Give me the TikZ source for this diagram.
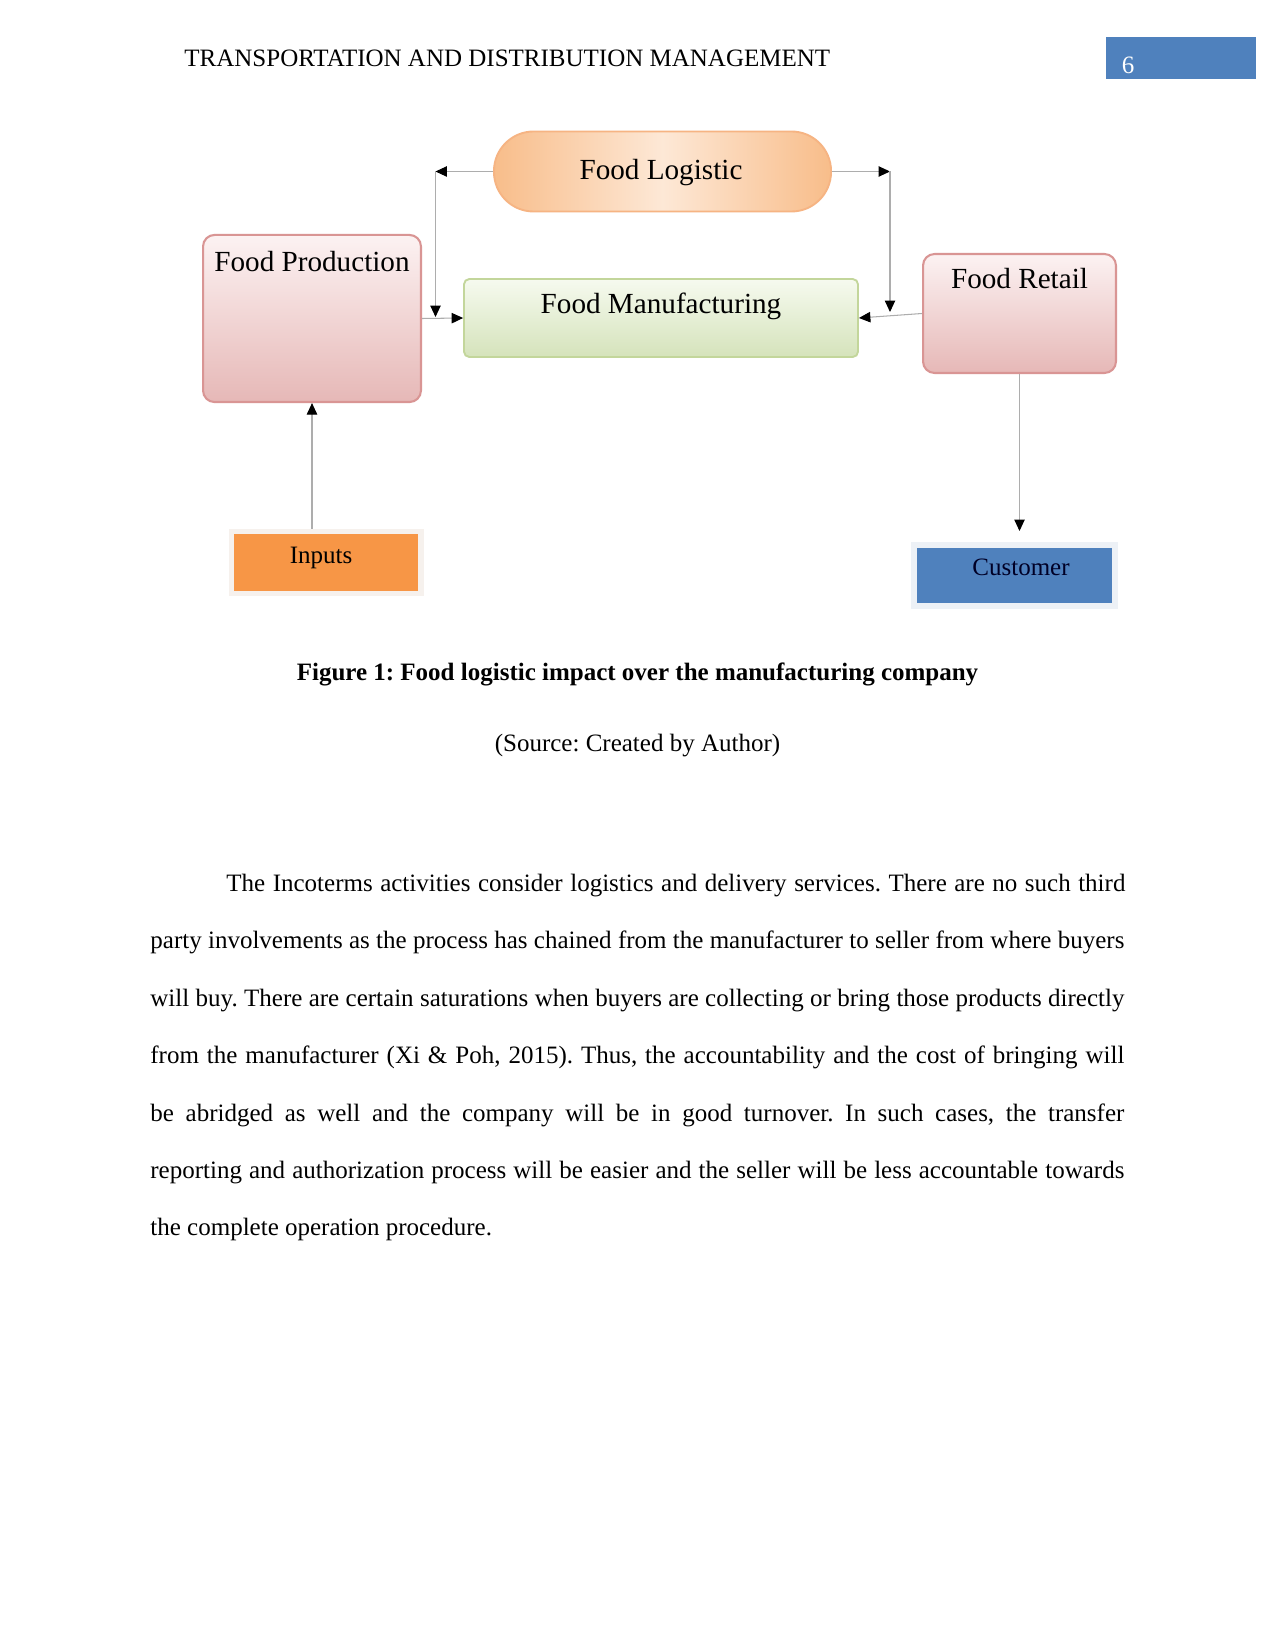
\documentclass[tikz,border=0pt]{standalone}
\usepackage{fontspec}
\setmainfont{Liberation Serif}
\usetikzlibrary{arrows.meta}
\frenchspacing
\definecolor{pinktop}{HTML}{FCF2F2}
\definecolor{pinkbot}{HTML}{E6B8B7}
\definecolor{pinkline}{HTML}{D99594}
\definecolor{greentop}{HTML}{F6FAEF}
\definecolor{greenbot}{HTML}{D5E3BB}
\definecolor{greenline}{HTML}{C3D69B}
\definecolor{orgedge}{HTML}{F8BD8A}
\definecolor{orgmid}{HTML}{FDE8D6}
\definecolor{orgline}{HTML}{F6B483}
\definecolor{inputfill}{HTML}{F79646}
\definecolor{inputglow}{HTML}{F6F1ED}
\definecolor{custfill}{HTML}{4F81BD}
\definecolor{custglow}{HTML}{EDF1F6}
\definecolor{linegray}{HTML}{ADADAD}
\begin{document}
\begin{tikzpicture}[x=0.48pt,y=-0.48pt,
  pinkbox/.style={rectangle, rounded corners=5.5pt, draw=pinkline, line width=1pt, top color=pinktop, bottom color=pinkbot, inner sep=0pt},
  greenbox/.style={rectangle, rounded corners=2.5pt, draw=greenline, line width=0.9pt, top color=greentop, bottom color=greenbot, inner sep=0pt},
  pillbox/.style={rectangle, rounded corners=19pt, draw=orgline, line width=0.9pt, left color=orgedge, right color=orgedge, middle color=orgmid, inner sep=0pt},
  conn/.style={draw=linegray, line width=0.5pt, -{Triangle[length=5.5pt,width=5pt,color=black]}},
  txt/.style={inner sep=0pt, anchor=base},
  big/.style={font=\fontsize{14}{16}\selectfont},
  norm/.style={font=\fontsize{12}{14}\selectfont},
  bodyline/.style={inner sep=0pt, anchor=base west, font=\fontsize{12}{14}\selectfont}
]
\fill[white] (0,0) rectangle (1275,1650);
\useasboundingbox (0,0) rectangle (1275,1650);

% header
\node[txt, anchor=base west, norm] (hdr) at (184,66.5) {TRANSPORTATION AND DISTRIBUTION MANAGEMENT};
\node[rectangle, fill=custfill, inner sep=0pt, minimum width=72pt, minimum height=20pt] (pgbox) at (1181,58) {};
\node[txt, anchor=base west, norm, text=white] (pgnum) at (1121.5,73.5) {6};

% boxes
\node[pillbox, minimum width=161.8pt, minimum height=38.4pt] (log) at (662.5,171.5) {};
\node[txt, big] (logt) at (661,179.5) {Food Logistic};

\node[pinkbox, minimum width=104.6pt, minimum height=80.2pt] (prod) at (312,318.5) {};
\node[txt, big] (prodt) at (312,271.5) {Food Production};

\node[greenbox, minimum width=189.1pt, minimum height=37.4pt] (manuf) at (661,318) {};
\node[txt, big] (manuft) at (661,314) {Food Manufacturing};

\node[pinkbox, minimum width=92.6pt, minimum height=57.1pt] (retail) at (1019.5,313.5) {};
\node[txt, big] (retailt) at (1019.5,289) {Food Retail};

\node[rectangle, draw=inputglow, line width=2.6pt, fill=inputfill, inner sep=0pt, minimum width=91pt, minimum height=29.8pt] (inputs) at (326,562.5) {};
\node[txt, norm] (inputst) at (321,563) {Inputs};

\node[rectangle, draw=custglow, line width=2.9pt, fill=custfill, inner sep=0pt, minimum width=96.5pt, minimum height=29.5pt] (cust) at (1014.5,575.5) {};
\node[txt, norm, text=black!85!blue] (custt) at (1021,575) {Customer};

% connectors
\coordinate (cL) at (435.5,171.5);
\coordinate (cLb) at (435.5,317);
\coordinate (cR) at (890,171.5);
\coordinate (cRb) at (890,312);
\coordinate (ctip) at (1019.5,531);
\draw[conn] (log.west) -- (cL);
\draw[conn] (cL) -- (cLb);
\draw[conn] (log.east) -- (cR);
\draw[conn] (cR) -- (cRb);
\draw[conn] (prod.east) -- (manuf.west);
\draw[conn] (retail.west) -- (manuf.east);
\draw[conn] (prod.south |- inputs.north) -- (prod.south);
\draw[conn] (retail.south) -- (ctip);

% caption
\node[txt, font=\fontsize{12}{14}\selectfont\bfseries] (cap) at (637.5,680) {Figure 1: Food logistic impact over the manufacturing company};
\node[txt, norm] (src) at (637.5,751) {(Source: Created by Author)};

% body
\node[bodyline] (l1) at (226,891.5) {\makebox[431.5pt][s]{The Incoterms activities consider logistics and delivery services. There are no such third}};
\node[bodyline] (l2) at (150,948.9) {\makebox[467.5pt][s]{party involvements as the process has chained from the manufacturer to seller from where buyers}};
\node[bodyline] (l3) at (150,1006.3) {\makebox[467.5pt][s]{will buy. There are certain saturations when buyers are collecting or bring those products directly}};
\node[bodyline] (l4) at (150,1063.7) {\makebox[467.5pt][s]{from the manufacturer (Xi \& Poh, 2015). Thus, the accountability and the cost of bringing will}};
\node[bodyline] (l5) at (150,1121.1) {\makebox[467.5pt][s]{be abridged as well and the company will be in good turnover. In such cases, the transfer}};
\node[bodyline] (l6) at (150,1178.5) {\makebox[467.5pt][s]{reporting and authorization process will be easier and the seller will be less accountable towards}};
\node[bodyline] (l7) at (150,1235.9) {the complete operation procedure.};
\end{tikzpicture}
\end{document}
